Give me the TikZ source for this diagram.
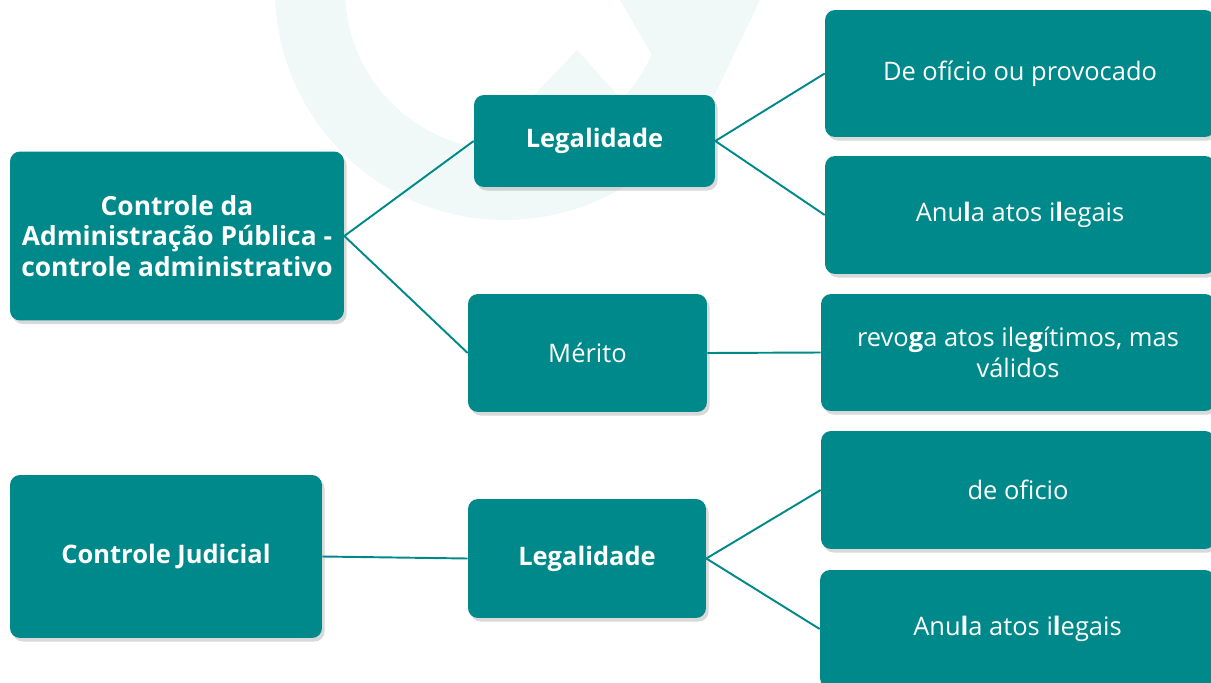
\documentclass[tikz,border=0pt]{standalone}
\usepackage{fontspec}
\setmainfont{Open Sans}
\usetikzlibrary{shadows}
\definecolor{teal}{HTML}{00898A}
\definecolor{paleteal}{HTML}{F0F8F8}
\begin{document}
\begin{tikzpicture}[x=0.02cm, y=-0.02cm,
    box/.style={rounded corners=0.2cm, fill=teal, text=white, align=center,
        inner sep=0pt, font=\fontsize{14.5}{18}\selectfont,
        drop shadow={shadow xshift=1.5pt, shadow yshift=-2pt, opacity=0.3}},
    headbox/.style={box, font=\bfseries\fontsize{14.5}{17.3}\selectfont},
    link/.style={draw=teal, line width=1.1pt}]
    % Picture frame
    \useasboundingbox (0,0) rectangle (1211,683);
    % Faint logo in the background
    \draw[paleteal, line width=1.4cm] (700,-10) arc[start angle=0, end angle=180, radius=195];
    \fill[paleteal] (577,50) -- (520,110) -- (640,120) -- cycle;
    \fill[paleteal] (620,0) -- (760,0) -- (697,132) -- cycle;
    % Administrative control
    \node[headbox, font=\bfseries\fontsize{15}{17.3}\selectfont, minimum width=6.68cm, minimum height=3.38cm] (adm) at (177,236)
        {Controle da\\Administração Pública -\\controle administrativo};
    \node[headbox, minimum width=4.82cm, minimum height=1.84cm] (admleg) at (594.5,141) {Legalidade};
    \node[box, minimum width=4.78cm, minimum height=2.36cm] (merito) at (587.5,353) {Mérito};
    \node[box, minimum width=7.8cm, minimum height=2.54cm] (oficio) at (1020,73.5) {De ofício ou provocado};
    \node[box, minimum width=7.8cm, minimum height=2.36cm] (anula) at (1020,215)
        {Anu\textbf{l}a atos i\textbf{l}egais};
    \node[box, minimum width=7.88cm, minimum height=2.34cm] (revoga) at (1018,352.5)
        {revo\textbf{g}a atos ile\textbf{g}ítimos, mas\\válidos};
    % Judicial control
    \node[headbox, minimum width=6.24cm, minimum height=3.26cm] (jud) at (166,556.5) {Controle Judicial};
    \node[headbox, minimum width=4.76cm, minimum height=2.38cm] (judleg) at (587,558.5) {Legalidade};
    \node[box, minimum width=7.88cm, minimum height=2.36cm] (judoficio) at (1018,490) {de oficio};
    \node[box, minimum width=7.9cm, minimum height=2.36cm] (judanula) at (1017.5,629)
        {Anu\textbf{l}a atos i\textbf{l}egais};
    % Connectors
    \foreach \a/\b in {adm/admleg, adm/merito, admleg/oficio, admleg/anula, merito/revoga,
        jud/judleg, judleg/judoficio, judleg/judanula} {
        \draw[link] (\a.east) -- (\b.west);
    }
\end{tikzpicture}
\end{document}
